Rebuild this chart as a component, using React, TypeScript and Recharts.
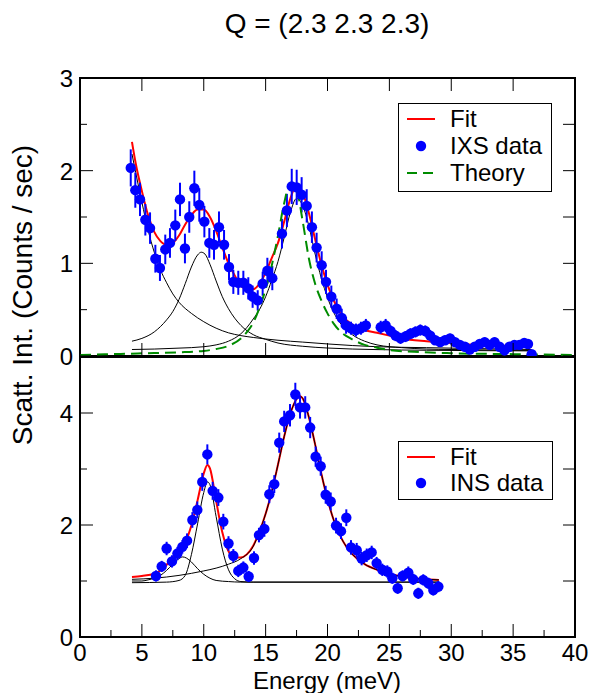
import React from 'react';
import { ComposedChart, Line, Scatter, ErrorBar, XAxis, YAxis, ReferenceArea } from 'recharts';

// energies in meV, intensities in counts / sec
const ixsData: [number, number, number][] = [
  [4.1, 2.03, 0.2], [4.47, 1.79, 0.19], [4.85, 1.69, 0.18], [5.28, 1.47, 0.17], [5.66, 1.38, 0.17],
  [6.09, 1.05, 0.15], [6.46, 0.95, 0.14], [6.89, 1.15, 0.16], [7.27, 1.22, 0.16], [7.7, 1.41, 0.17],
  [8.08, 1.69, 0.18], [8.48, 1.16, 0.16], [8.83, 1.5, 0.17], [9.24, 1.81, 0.19], [9.64, 1.63, 0.18],
  [10.05, 1.45, 0.17], [10.45, 1.22, 0.16], [10.83, 1.2, 0.16], [11.23, 1.39, 0.17], [11.64, 1.2, 0.16],
  [12.04, 0.96, 0.14], [12.39, 0.8, 0.13], [12.79, 0.79, 0.13], [13.2, 0.79, 0.13], [13.6, 0.73, 0.12],
  [13.95, 0.64, 0.12], [14.36, 0.6, 0.11], [14.76, 0.78, 0.13], [15.14, 0.92, 0.14], [15.54, 0.84, 0.13],
  [16.32, 1.32, 0.16], [16.72, 1.57, 0.18], [17.11, 1.83, 0.19], [17.51, 1.82, 0.19], [17.91, 1.74, 0.19],
  [18.32, 1.62, 0.18], [18.74, 1.39, 0.17], [19.12, 1.17, 0.16], [19.53, 0.98, 0.15], [19.88, 0.8, 0.13],
  [20.31, 0.64, 0.12], [20.74, 0.51, 0.11], [21.15, 0.41, 0.1], [21.5, 0.33, 0.09], [21.9, 0.3, 0.07],
  [22.3, 0.28, 0.07], [22.7, 0.3, 0.07], [23.1, 0.33, 0.07], [24.3, 0.31, 0.07], [24.7, 0.33, 0.07],
  [25.1, 0.27, 0.06], [25.5, 0.22, 0.06], [25.9, 0.19, 0.06], [26.3, 0.21, 0.06], [26.7, 0.24, 0.06],
  [27.1, 0.26, 0.06], [27.5, 0.28, 0.06], [27.9, 0.27, 0.06], [28.3, 0.22, 0.06], [28.7, 0.17, 0.05],
  [29.1, 0.15, 0.05], [29.5, 0.17, 0.05], [29.9, 0.19, 0.05], [30.3, 0.15, 0.05], [30.7, 0.12, 0.05],
  [31.1, 0.1, 0.05], [31.5, 0.07, 0.05], [31.9, 0.1, 0.05], [32.3, 0.13, 0.05], [32.7, 0.15, 0.05],
  [33.1, 0.12, 0.05], [33.5, 0.15, 0.05], [33.9, 0.1, 0.05], [34.3, 0.06, 0.05], [34.7, 0.1, 0.05],
  [35.1, 0.12, 0.05], [35.5, 0.12, 0.05], [35.9, 0.14, 0.05], [36.2, 0.13, 0.05], [36.5, 0.02, 0.04],
];

const ixsFit: [number, number][] = [
  [4.2, 2.31], [4.5, 2.08], [5, 1.78], [5.5, 1.52], [6, 1.34], [6.5, 1.24], [7, 1.2], [7.5, 1.22],
  [8, 1.3], [8.5, 1.42], [9, 1.52], [9.5, 1.58], [10, 1.58], [10.5, 1.5], [11, 1.35], [11.5, 1.17],
  [12, 1.0], [12.5, 0.87], [13, 0.76], [13.5, 0.72], [14, 0.72], [14.5, 0.78], [15, 0.9], [15.5, 1.06],
  [16, 1.22], [16.5, 1.45], [17, 1.7], [17.5, 1.84], [18, 1.76], [18.5, 1.54], [19, 1.26], [19.5, 0.99],
  [20, 0.77], [20.5, 0.6], [21, 0.47], [22, 0.34], [23, 0.28], [24, 0.25], [25, 0.22], [26, 0.19],
  [28, 0.16], [30, 0.14], [32, 0.12], [34, 0.11], [36.5, 0.1],
];

const ixsCentral: [number, number][] = [
  [4.2, 2.18], [4.5, 1.98], [5, 1.66], [5.5, 1.36], [6, 1.12], [6.5, 0.93], [7, 0.79], [7.5, 0.67],
  [8, 0.58], [9, 0.46], [10, 0.37], [11, 0.3], [12, 0.25], [13, 0.22], [14, 0.2], [16, 0.17],
  [18, 0.15], [20, 0.13], [24, 0.1], [28, 0.09], [32, 0.08], [36.5, 0.07],
];

const ixsPeak1: [number, number][] = [
  [4.2, 0.16], [5, 0.19], [6, 0.26], [7, 0.39], [7.5, 0.48], [8, 0.61], [8.5, 0.78], [9, 0.96],
  [9.5, 1.09], [9.8, 1.12], [10.1, 1.1], [10.5, 0.99], [11, 0.81], [11.5, 0.64], [12, 0.51], [13, 0.33],
  [14, 0.23], [15, 0.18], [16, 0.14], [18, 0.105], [20, 0.086], [24, 0.069], [28, 0.062], [32, 0.058],
  [36.5, 0.055],
];

const ixsPeak2: [number, number][] = [
  [4.2, 0.07], [6, 0.075], [8, 0.085], [10, 0.1], [11, 0.12], [12, 0.16], [13, 0.24], [13.5, 0.31],
  [14, 0.4], [14.5, 0.5], [15, 0.64], [15.5, 0.82], [16, 1.02], [16.5, 1.28], [17, 1.55], [17.5, 1.7],
  [18, 1.62], [18.5, 1.4], [19, 1.1], [19.5, 0.84], [20, 0.63], [20.5, 0.47], [21, 0.36], [22, 0.23],
  [23, 0.16], [24, 0.12], [26, 0.09], [28, 0.075], [30, 0.07], [33, 0.065], [36.5, 0.06],
];

const theory: [number, number][] = [
  [0, 0.01], [2, 0.018], [4, 0.025], [6, 0.032], [8, 0.04], [10, 0.055], [11, 0.075], [12, 0.11],
  [13, 0.19], [13.5, 0.26], [14, 0.36], [14.5, 0.52], [15, 0.72], [15.5, 0.98], [16, 1.3], [16.5, 1.65],
  [17, 1.87], [17.5, 1.8], [18, 1.45], [18.5, 1.05], [19, 0.78], [19.5, 0.6], [20, 0.46], [20.5, 0.35],
  [21, 0.27], [22, 0.18], [23, 0.12], [24, 0.09], [25, 0.065], [27, 0.045], [30, 0.03], [35, 0.02],
  [40, 0.01],
];

const insData: [number, number, number][] = [
  [6.14, 1.09, 0.1], [6.6, 1.26, 0.1], [7.0, 1.58, 0.12], [7.43, 1.35, 0.11], [7.87, 1.49, 0.12],
  [8.27, 1.61, 0.12], [8.65, 1.72, 0.13], [9.08, 2.09, 0.14], [9.48, 2.27, 0.15], [9.88, 2.77, 0.16],
  [10.29, 3.26, 0.18], [10.72, 2.61, 0.16], [11.18, 2.49, 0.15], [11.58, 2.06, 0.14], [12.0, 1.67, 0.13],
  [12.39, 1.45, 0.12], [12.79, 1.18, 0.11], [13.2, 1.24, 0.11], [13.63, 1.08, 0.1], [14.06, 1.41, 0.12],
  [14.46, 1.82, 0.13], [14.9, 1.93, 0.14], [15.3, 2.55, 0.16], [15.7, 2.73, 0.16], [16.1, 3.47, 0.18],
  [16.5, 3.85, 0.19], [16.97, 3.96, 0.2], [17.4, 4.33, 0.21], [17.78, 4.1, 0.2], [18.2, 4.1, 0.2],
  [18.6, 3.74, 0.19], [19.04, 3.22, 0.18], [19.45, 3.05, 0.17], [19.85, 2.54, 0.16], [20.26, 2.42, 0.16],
  [20.69, 1.99, 0.14], [21.09, 1.89, 0.14], [21.52, 2.13, 0.15], [21.9, 1.6, 0.13], [22.36, 1.55, 0.13],
  [22.76, 1.4, 0.12], [23.17, 1.46, 0.12], [23.57, 1.51, 0.12], [23.97, 1.32, 0.11], [24.43, 1.2, 0.11],
  [24.83, 1.17, 0.11], [25.24, 1.05, 0.1], [25.67, 0.87, 0.1], [26.07, 1.09, 0.1], [26.53, 1.15, 0.11],
  [26.93, 1.03, 0.1], [27.34, 0.78, 0.1], [27.74, 1.02, 0.1], [28.15, 0.96, 0.1], [28.55, 0.84, 0.1],
  [28.96, 0.9, 0.1],
];

const insFit: [number, number][] = [
  [4.2, 1.07], [5, 1.09], [6, 1.13], [6.5, 1.19], [7, 1.29], [7.5, 1.42], [8, 1.56], [8.5, 1.69],
  [9, 1.99], [9.5, 2.44], [10, 2.92], [10.3, 3.07], [10.5, 3.01], [11, 2.43], [11.5, 1.87], [12, 1.53],
  [12.5, 1.42], [13, 1.42], [13.5, 1.48], [14, 1.63], [14.5, 1.88], [15, 2.2], [15.5, 2.6], [16, 3.08],
  [16.5, 3.58], [17, 3.99], [17.5, 4.25], [17.8, 4.3], [18, 4.26], [18.5, 3.92], [19, 3.44], [19.5, 2.92],
  [20, 2.46], [20.5, 2.09], [21, 1.82], [21.5, 1.62], [22, 1.48], [23, 1.3], [24, 1.2], [25, 1.13],
  [26, 1.08], [27, 1.05], [28, 1.03], [29, 1.02],
];

const insPeakA: [number, number][] = [
  [4.2, 1.0], [5, 1.0], [5.5, 1.02], [6, 1.05], [6.5, 1.1], [7, 1.19], [7.5, 1.3], [8, 1.4], [8.3, 1.43],
  [8.6, 1.41], [9, 1.34], [9.5, 1.22], [10, 1.12], [10.5, 1.05], [11, 1.01], [12, 0.99], [13, 0.98],
  [29, 0.98],
];

const insPeakB: [number, number][] = [
  [4.2, 0.97], [7, 0.98], [8, 1.01], [8.5, 1.1], [9, 1.47], [9.5, 2.02], [10, 2.58], [10.3, 2.77],
  [10.5, 2.72], [11, 2.15], [11.5, 1.57], [12, 1.2], [12.5, 1.04], [13, 0.99], [14, 0.98], [29, 0.98],
];

const insPeakC: [number, number][] = [
  [4.2, 1.03], [6, 1.05], [8, 1.1], [10, 1.18], [11, 1.23], [12, 1.3], [13, 1.4], [14, 1.62],
  [14.5, 1.88], [15, 2.2], [15.5, 2.6], [16, 3.08], [16.5, 3.58], [17, 3.99], [17.5, 4.25], [17.8, 4.3],
  [18, 4.26], [18.5, 3.92], [19, 3.44], [19.5, 2.92], [20, 2.46], [20.5, 2.09], [21, 1.82], [21.5, 1.62],
  [22, 1.48], [23, 1.3], [24, 1.2], [25, 1.13], [26, 1.08], [27, 1.05], [28, 1.03], [29, 1.02],
];

const xMajor = [0, 5, 10, 15, 20, 25, 30, 35, 40];
const xAll = [0, 2.5, 5, 7.5, 10, 12.5, 15, 17.5, 20, 22.5, 25, 27.5, 30, 32.5, 35, 37.5, 40];
const topYTicks = [0, 0.5, 1, 1.5, 2, 2.5, 3];
const botYTicks = [0, 1, 2, 3, 4];

const W = 591;
const H = 693;
const LEFT = 80;
const RIGHT = 575;
const TOP_T = 78;
const TOP_B = 356;
const BOT_T = 357;
const BOT_B = 637;
const AXIS_W = 60;
const AXIS_H = 30;
const FONT = '"Liberation Sans", Arial, Helvetica, sans-serif';

const pts = (a: [number, number][]) => a.map(([e, i]) => ({ e, i }));
const errPts = (a: [number, number, number][]) => a.map(([e, i, err]) => ({ e, i, err }));

const dot = (p: any) => <circle cx={p.cx} cy={p.cy} r={5.2} fill="#0000ff" />;

function makeXTick(top: number, labels: boolean) {
  return (p: any) => {
    const v = p.payload.value;
    const major = v % 5 === 0;
    const len = major ? 13 : 7;
    return (
      <g>
        <line x1={p.x} x2={p.x} y1={p.y} y2={p.y - len} stroke="#000" strokeWidth={1} />
        {!labels && <line x1={p.x} x2={p.x} y1={top} y2={top + len} stroke="#000" strokeWidth={1} />}
        {labels && major && (
          <text x={p.x} y={p.y + 24} textAnchor="middle" fontSize={24} fontFamily={FONT} fill="#000">
            {v}
          </text>
        )}
      </g>
    );
  };
}

function makeYTick(labelEvery: number) {
  return (p: any) => {
    const v = p.payload.value;
    const major = Math.abs(v / labelEvery - Math.round(v / labelEvery)) < 1e-6;
    const len = major ? 13 : 7;
    return (
      <g>
        <line x1={p.x} x2={p.x + len} y1={p.y} y2={p.y} stroke="#000" strokeWidth={1} />
        <line x1={RIGHT} x2={RIGHT - 12} y1={p.y} y2={p.y} stroke="#000" strokeWidth={1} />
        {major && (
          <text x={p.x - 7} y={p.y + 9} textAnchor="end" fontSize={24} fontFamily={FONT} fill="#000">
            {v}
          </text>
        )}
      </g>
    );
  };
}

function TopPanel() {
  return (
    <ComposedChart width={W} height={H}
      margin={{ top: TOP_T, bottom: H - TOP_B - AXIS_H, left: LEFT - AXIS_W, right: W - RIGHT }}>
      <XAxis dataKey="e" type="number" domain={[0, 40]} ticks={xMajor} height={AXIS_H} tickSize={0} tickMargin={0}
        axisLine={false} tickLine={false} tick={makeXTick(TOP_T, false)} allowDataOverflow interval={0} />
      <YAxis type="number" domain={[0, 3]} ticks={topYTicks} width={AXIS_W} tickSize={0} tickMargin={0}
        axisLine={false} tickLine={false} tick={makeYTick(1)} allowDataOverflow interval={0} />
      <Line data={pts(ixsCentral)} dataKey="i" type="monotone" stroke="#000" strokeWidth={1} dot={false} isAnimationActive={false} />
      <Line data={pts(ixsPeak1)} dataKey="i" type="monotone" stroke="#000" strokeWidth={1} dot={false} isAnimationActive={false} />
      <Line data={pts(ixsPeak2)} dataKey="i" type="monotone" stroke="#000" strokeWidth={1} dot={false} isAnimationActive={false} />
      <Line data={pts(ixsFit)} dataKey="i" type="monotone" stroke="#ff0000" strokeWidth={2} dot={false} isAnimationActive={false} />
      <Scatter data={errPts(ixsData)} dataKey="i" shape={dot} isAnimationActive={false}>
        <ErrorBar dataKey="err" direction="y" width={0} stroke="#0000ff" strokeWidth={2} isAnimationActive={false} />
      </Scatter>
      <Line data={pts(theory)} dataKey="i" type="monotone" stroke="#008c00" strokeWidth={2} strokeDasharray="11 6"
        dot={false} isAnimationActive={false} />
      <ReferenceArea x1={0} x2={40} y1={0} y2={3} fill="none" stroke="#000" strokeWidth={2} />
    </ComposedChart>
  );
}

function BottomPanel() {
  return (
    <ComposedChart width={W} height={H}
      margin={{ top: BOT_T, bottom: H - BOT_B - AXIS_H, left: LEFT - AXIS_W, right: W - RIGHT }}>
      <XAxis dataKey="e" type="number" domain={[0, 40]} ticks={xAll} height={AXIS_H} tickSize={0} tickMargin={0}
        axisLine={false} tickLine={false} tick={makeXTick(BOT_T, true)} allowDataOverflow interval={0} />
      <YAxis type="number" domain={[0, 5]} ticks={botYTicks} width={AXIS_W} tickSize={0} tickMargin={0}
        axisLine={false} tickLine={false} tick={makeYTick(2)} allowDataOverflow interval={0} />
      <Line data={pts(insFit)} dataKey="i" type="monotone" stroke="#ff0000" strokeWidth={2} dot={false} isAnimationActive={false} />
      <Line data={pts(insPeakA)} dataKey="i" type="monotone" stroke="#000" strokeWidth={1} dot={false} isAnimationActive={false} />
      <Line data={pts(insPeakB)} dataKey="i" type="monotone" stroke="#000" strokeWidth={1} dot={false} isAnimationActive={false} />
      <Line data={pts(insPeakC)} dataKey="i" type="monotone" stroke="#000" strokeWidth={1} dot={false} isAnimationActive={false} />
      <Scatter data={errPts(insData)} dataKey="i" shape={dot} isAnimationActive={false}>
        <ErrorBar dataKey="err" direction="y" width={0} stroke="#0000ff" strokeWidth={2} isAnimationActive={false} />
      </Scatter>
      <ReferenceArea x1={0} x2={40} y1={0} y2={5} fill="none" stroke="#000" strokeWidth={2} />
    </ComposedChart>
  );
}

function Overlay() {
  const txt = { fontFamily: FONT, fontSize: 24, fill: '#000' } as const;
  return (
    <svg width={W} height={H} style={{ position: 'absolute', left: 0, top: 0 }}>
      <text x={327} y={33} textAnchor="middle" {...txt} fontSize={28}>Q = (2.3 2.3 2.3)</text>
      <text x={327} y={689} textAnchor="middle" {...txt}>Energy (meV)</text>
      <text transform="translate(32 295) rotate(-90)" textAnchor="middle" {...txt} fontSize={28}>
        Scatt. Int. (Counts / sec)
      </text>

      <rect x={398.5} y={103.5} width={153} height={88} fill="#fff" stroke="#000" strokeWidth={1} />
      <line x1={407} x2={435} y1={119} y2={119} stroke="#ff0000" strokeWidth={2} />
      <text x={450} y={127} {...txt}>Fit</text>
      <circle cx={421} cy={146} r={5.2} fill="#0000ff" />
      <text x={450} y={154} {...txt}>IXS data</text>
      <line x1={407} x2={435} y1={173} y2={173} stroke="#008c00" strokeWidth={2} strokeDasharray="10 6" />
      <text x={450} y={181} {...txt}>Theory</text>

      <rect x={398.5} y={441.5} width={154} height={58} fill="#fff" stroke="#000" strokeWidth={1} />
      <line x1={407} x2={435} y1={457} y2={457} stroke="#ff0000" strokeWidth={2} />
      <text x={450} y={465} {...txt}>Fit</text>
      <circle cx={421} cy={483} r={5.2} fill="#0000ff" />
      <text x={450} y={491} {...txt}>INS data</text>
    </svg>
  );
}

export default function App() {
  return (
    <div style={{ position: 'absolute', left: 0, top: 0, width: W, height: H, background: '#fff' }}>
      <div style={{ position: 'absolute', left: 0, top: 0 }}>
        <TopPanel />
      </div>
      <div style={{ position: 'absolute', left: 0, top: 0 }}>
        <BottomPanel />
      </div>
      <Overlay />
    </div>
  );
}
